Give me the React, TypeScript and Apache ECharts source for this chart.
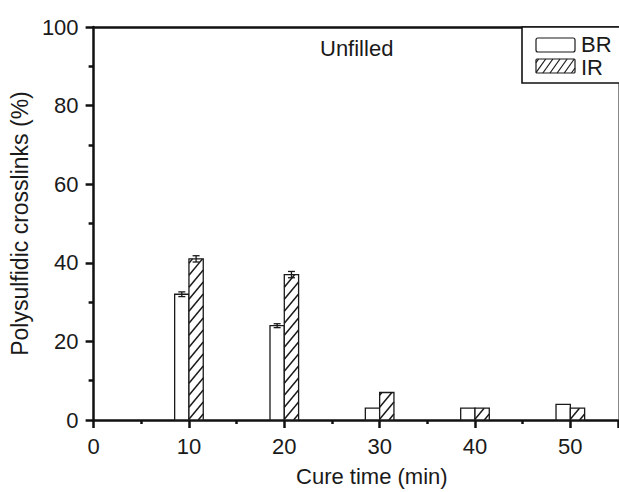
import React, { useEffect, useRef } from "react";
import * as echarts from "echarts";

const cureTimes = [10, 20, 30, 40, 50];
const brValues = [32, 24, 3, 3, 4];
const irValues = [41, 37, 7, 3, 3];
const brErrors = [0.6, 0.5, 0, 0, 0];
const irErrors = [0.8, 0.8, 0, 0, 0];
const yTicks = [0, 20, 40, 60, 80, 100];
const xTicks = [0, 10, 20, 30, 40, 50];

const FONT = "Liberation Sans, Arial, sans-serif";
const BAR_W = 1.5;

function hatchLines(x0: number, x1: number, yTop: number, yBot: number, step: number, k: number, style: any) {
  const out: any[] = [];
  const w = x1 - x0;
  for (let c = yBot + k * w - step / 2; c > yTop; c -= step) {
    const xs = Math.max(x0, x0 + (c - yBot) / k);
    const xe = Math.min(x1, x0 + (c - yTop) / k);
    if (xe - xs > 0.5) {
      out.push({
        type: "line",
        shape: { x1: xs, y1: c - k * (xs - x0), x2: xe, y2: c - k * (xe - x0) },
        style,
        silent: true,
      });
    }
  }
  return out;
}

function barRenderer(offStart: number, offEnd: number, hatched: boolean) {
  return (params: any, api: any) => {
    const x = api.value(0);
    const y = api.value(1);
    const pTop = api.coord([x + offStart, y]);
    const pBot = api.coord([x + offEnd, 0]);
    const x0 = pTop[0], x1 = pBot[0], yTop = pTop[1], yBot = pBot[1];
    const children: any[] = [
      {
        type: "rect",
        shape: { x: x0, y: yTop, width: x1 - x0, height: yBot - yTop },
        style: { fill: "#ffffff", stroke: "#1a1a1a", lineWidth: 1.3 },
      },
    ];
    if (hatched) {
      children.push(
        ...hatchLines(x0, x1, yTop, yBot, 12, 1.2, { stroke: "#1a1a1a", lineWidth: 1.5 })
      );
    }
    return { type: "group", children };
  };
}

function errRenderer(off: number) {
  return (params: any, api: any) => {
    const x = api.value(0) + off;
    const y = api.value(1);
    const e = api.value(2);
    if (!e) return { type: "group", children: [] };
    const pHi = api.coord([x, y + e]);
    const pLo = api.coord([x, y - e]);
    const cap = 3.5;
    const st = { stroke: "#1a1a1a", lineWidth: 1.3 };
    return {
      type: "group",
      children: [
        { type: "line", shape: { x1: pHi[0], y1: pHi[1], x2: pLo[0], y2: pLo[1] }, style: st },
        { type: "line", shape: { x1: pHi[0] - cap, y1: pHi[1], x2: pHi[0] + cap, y2: pHi[1] }, style: st },
        { type: "line", shape: { x1: pLo[0] - cap, y1: pLo[1], x2: pLo[0] + cap, y2: pLo[1] }, style: st },
      ],
    };
  };
}

export default function App() {
  const ref = useRef<HTMLDivElement>(null);
  useEffect(() => {
    if (!ref.current) return;
    const chart = echarts.init(ref.current, null, { renderer: "svg" });
    const brData = cureTimes.map((t, i) => [t, brValues[i], brErrors[i]]);
    const irData = cureTimes.map((t, i) => [t, irValues[i], irErrors[i]]);
    const legendHatch = hatchLines(536, 575, 59, 73, 10, 1.4, { stroke: "#1a1a1a", lineWidth: 1.2 });
    const axisStyle = { color: "#111", width: 2.5 };

    chart.setOption({
      animation: false,
      backgroundColor: "#ffffff",
      grid: { left: 90, right: 1, top: 27, bottom: 70, containLabel: false },
      xAxis: [
        {
          type: "value",
          min: 0,
          max: 55,
          interval: 10,
          name: "Cure time (min)",
          nameLocation: "middle",
          nameGap: 45,
          nameTextStyle: { fontFamily: FONT, fontSize: 22, color: "#1a1a1a", padding: [0, 0, 0, 32] },
          axisLine: { show: true, onZero: false, lineStyle: axisStyle },
          axisTick: { show: true, length: 8, inside: false, lineStyle: axisStyle },
          minorTick: { show: true, splitNumber: 2, length: 4, lineStyle: axisStyle },
          splitLine: { show: false },
          axisLabel: {
            fontFamily: FONT,
            fontSize: 22,
            color: "#1a1a1a",
            margin: 15,
            showMaxLabel: false,
            formatter: (v: number) => (xTicks.includes(v) ? String(v) : ""),
          },
        },
        {
          type: "value",
          position: "top",
          min: 0,
          max: 55,
          axisLine: { show: true, onZero: false, lineStyle: axisStyle },
          axisTick: { show: false },
          axisLabel: { show: false },
          splitLine: { show: false },
        },
      ],
      yAxis: [
        {
          type: "value",
          min: 0,
          max: 100,
          interval: 20,
          name: "Polysulfidic crosslinks (%)",
          nameLocation: "middle",
          nameGap: 59,
          nameTextStyle: { fontFamily: FONT, fontSize: 23, color: "#1a1a1a" },
          axisLine: { show: true, onZero: false, lineStyle: axisStyle },
          axisTick: { show: true, length: 8, lineStyle: axisStyle },
          minorTick: { show: true, splitNumber: 2, length: 5, lineStyle: axisStyle },
          splitLine: { show: false },
          axisLabel: {
            fontFamily: FONT,
            fontSize: 22,
            color: "#1a1a1a",
            margin: 15,
            formatter: (v: number) => (yTicks.includes(v) ? String(v) : ""),
          },
        },
        {
          type: "value",
          position: "right",
          min: 0,
          max: 100,
          axisLine: { show: true, onZero: false, lineStyle: { color: "#888", width: 1 } },
          axisTick: { show: false },
          axisLabel: { show: false },
          splitLine: { show: false },
        },
      ],
      series: [
        {
          name: "BR",
          type: "custom",
          renderItem: barRenderer(-BAR_W, 0, false),
          data: brData,
          encode: { x: 0, y: 1 },
          z: 2,
        },
        {
          name: "IR",
          type: "custom",
          renderItem: barRenderer(0, BAR_W, true),
          data: irData,
          encode: { x: 0, y: 1 },
          z: 2,
        },
        {
          name: "BR err",
          type: "custom",
          renderItem: errRenderer(-BAR_W / 2),
          data: brData,
          encode: { x: 0, y: 1 },
          z: 3,
        },
        {
          name: "IR err",
          type: "custom",
          renderItem: errRenderer(BAR_W / 2),
          data: irData,
          encode: { x: 0, y: 1 },
          z: 3,
        },
      ],
      graphic: [
        {
          type: "text",
          x: 320,
          y: 48,
          style: { text: "Unfilled", fontFamily: FONT, fontSize: 22, fill: "#1a1a1a", verticalAlign: "middle" },
        },
        {
          type: "rect",
          shape: { x: 522, y: 27, width: 100, height: 56 },
          style: { fill: "#ffffff", stroke: "#111", lineWidth: 1.6 },
          z: 10,
        },
        {
          type: "rect",
          shape: { x: 536, y: 38, width: 39, height: 14, r: 2 },
          style: { fill: "#ffffff", stroke: "#1a1a1a", lineWidth: 1.2 },
          z: 11,
        },
        {
          type: "rect",
          shape: { x: 536, y: 59, width: 39, height: 14, r: 1 },
          style: { fill: "#ffffff", stroke: "#1a1a1a", lineWidth: 1.2 },
          z: 11,
        },
        ...legendHatch.map((l) => ({ ...l, z: 12 })),
        {
          type: "text",
          x: 581,
          y: 44,
          z: 12,
          style: { text: "BR", fontFamily: FONT, fontSize: 22, fill: "#1a1a1a", verticalAlign: "middle" },
        },
        {
          type: "text",
          x: 581,
          y: 67,
          z: 12,
          style: { text: "IR", fontFamily: FONT, fontSize: 22, fill: "#1a1a1a", verticalAlign: "middle" },
        },
      ],
    });
    return () => chart.dispose();
  }, []);
  return (
    <div
      ref={ref}
      style={{ position: "absolute", left: 0, top: 0, width: 619, height: 492, background: "#fff" }}
    />
  );
}
